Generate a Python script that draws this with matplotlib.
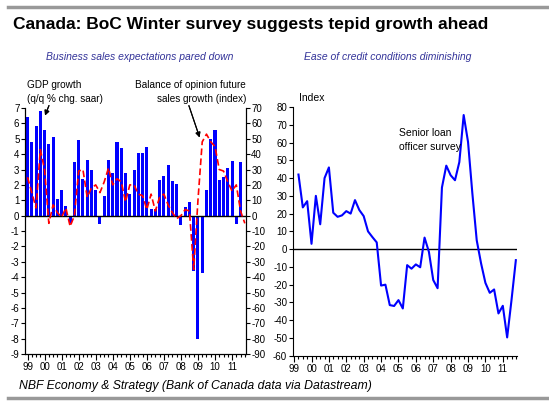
# Canada: BoC Winter survey chart, two panels

import numpy as np
import matplotlib.pyplot as plt
from matplotlib.ticker import MultipleLocator

plt.rcParams['font.family'] = ['Liberation Sans', 'DejaVu Sans']
plt.rcParams['axes.unicode_minus'] = False

# GDP growth, q/q % chg. saar, 1999Q1 - 2011Q3
gdp = [6.4, 4.8, 5.8, 6.8, 5.55, 4.65, 5.1, 1.06, 1.7, 0.6, -0.5, 3.5,
       4.95, 2.4, 3.6, 3.0, 1.7, -0.55, 1.25, 3.65, 2.75, 4.8, 4.4, 2.75,
       1.4, 2.95, 4.1, 4.05, 4.45, 0.4, 0.4, 2.35, 2.6, 3.3, 2.25, 2.05,
       -0.6, 0.55, 0.9, -3.6, -8.0, -3.7, 1.7, 5.0, 5.6, 2.3, 2.5, 3.1,
       3.55, -0.55, 3.5]

# Balance of opinion, future sales growth (index), 1999Q1 - 2011Q4
sales = [25, 15, 5, 43, 30, -5, 7, 2, -1, 5, -7, 0,
         29, 30, 12, 18, 20, 15, 22, 31, 20, 24, 22, 9,
         20, 20, 14, 13, 4, 14, 3, 12, 14, 7, 2, -2,
         0, 4, 3, -35, 10, 48, 53, 48, 45, 30, 29, 22,
         16, 20, 3, -5]

# Senior loan officer survey (index), 51 quarters
slos = [42, 23.5, 27, 3, 30, 14, 40, 46, 20.5, 18.2, 19, 21.4,
        20, 27.6, 22, 18.6, 10, 6.8, 3.8, -20.5, -20, -31.5, -32, -28.7,
        -33.4, -9, -11, -8.6, -10.2, 6.5, -1.5, -17.4, -22, 34.7, 47, 41.6,
        38.8, 49, 75.5, 60.4, 31.3, 5, -8, -19, -24.6, -22.7, -36.2, -31.9,
        -49.7, -28.7, -6.2]

years = ['99', '00', '01', '02', '03', '04', '05', '06', '07', '08', '09', '10', '11']

t_gdp = 1999 + 0.25*np.arange(len(gdp))
t_sales = 1999 + 0.25*np.arange(len(sales))
t_slos = 1999.25 + 0.25*np.arange(len(slos))

W, H = 549.0, 407.0
def px(x, y):
  # pixel position (from top-left) -> figure fraction
  return (x/W, 1 - y/H)

fig = plt.figure(figsize=(5.49, 4.07), dpi=100, facecolor='white')

def style_xaxis(ax):
  ax.set_xticks(np.arange(1999, 2012))
  ax.set_xticklabels(years)
  ax.xaxis.set_minor_locator(MultipleLocator(0.25))
  ax.tick_params(axis='x', which='major', length=4, width=0.8, labelsize=7, pad=2)
  ax.tick_params(axis='x', which='minor', length=2.5, width=0.8)
  ax.spines['top'].set_visible(False)

# ---- left panel
ax1 = fig.add_axes([0.0455, 0.1302, 0.402, 0.6044])
ax1.bar(t_gdp, gdp, width=0.18, color='#0000FF', zorder=2)
ax1.axhline(0, color='black', lw=1, zorder=3)
ax1.set_ylim(-9, 7)
ax1.set_yticks(range(-9, 8))
ax1.set_xlim(1998.85, 2011.8)
ax1.tick_params(axis='y', length=3, labelsize=7, pad=1)
style_xaxis(ax1)

ax1r = ax1.twinx()
ax1r.plot(t_sales, sales, color='#FF0000', lw=1.2, dashes=(4, 2), zorder=4)
ax1r.set_ylim(-90, 70)
ax1r.set_yticks(range(-90, 71, 10))
ax1r.tick_params(axis='y', length=3, labelsize=7, pad=1)
ax1r.spines['top'].set_visible(False)

fig.text(*px(27, 104), 'GDP growth\n(q/q % chg. saar)', fontsize=7.2,
         va='bottom', ha='left', linespacing=1.45)
fig.text(*px(246, 104), 'Balance of opinion future\nsales growth (index)',
         fontsize=7.2, va='bottom', ha='right', linespacing=1.45)
arrow = dict(arrowstyle='-|>', color='black', lw=0.8, mutation_scale=7)
fig.add_artist(plt.annotate('', xy=px(44, 118), xytext=px(50, 103),
                            xycoords='figure fraction', arrowprops=arrow))
fig.add_artist(plt.annotate('', xy=px(200.5, 140), xytext=px(188, 103),
                            xycoords='figure fraction', arrowprops=arrow))

# ---- right panel
ax2 = fig.add_axes([0.5332, 0.126, 0.408, 0.611])
ax2.plot(t_slos, slos, color='#0000FF', lw=1.5, zorder=3)
ax2.axhline(0, color='black', lw=1, zorder=2)
ax2.set_ylim(-60, 80)
ax2.set_yticks(range(-60, 81, 10))
ax2.set_xlim(1998.92, 2011.8)
ax2.tick_params(axis='y', length=3, labelsize=7, pad=1)
style_xaxis(ax2)
ax2.spines['right'].set_visible(False)
fig.text(*px(299, 98), 'Index', fontsize=7.5, va='center', ha='left')
fig.text(*px(399, 152), 'Senior loan\nofficer survey', fontsize=7.5,
         va='bottom', ha='left', linespacing=1.45)

# ---- titles and footer
fig.text(*px(13, 24), 'Canada: BoC Winter survey suggests tepid growth ahead',
         fontsize=12.5, fontweight='bold', va='center', ha='left')
fig.text(*px(139.5, 57), 'Business sales expectations pared down',
         fontsize=7.5, style='italic', color='#333399', va='center', ha='center')
fig.text(*px(387.5, 57), 'Ease of credit conditions diminishing',
         fontsize=7.5, style='italic', color='#333399', va='center', ha='center')
fig.text(*px(19, 386), 'NBF Economy & Strategy (Bank of Canada data via Datastream)',
         fontsize=8.8, style='italic', va='center', ha='left')

# gray rules
fig.add_artist(plt.Line2D([8/W, 1], [1 - 7/H, 1 - 7/H], color='#999999', lw=2.5))
fig.add_artist(plt.Line2D([8/W, 1], [1 - 398/H, 1 - 398/H], color='#999999', lw=2.5))

fig.savefig('out.png', dpi=100, facecolor='white')
